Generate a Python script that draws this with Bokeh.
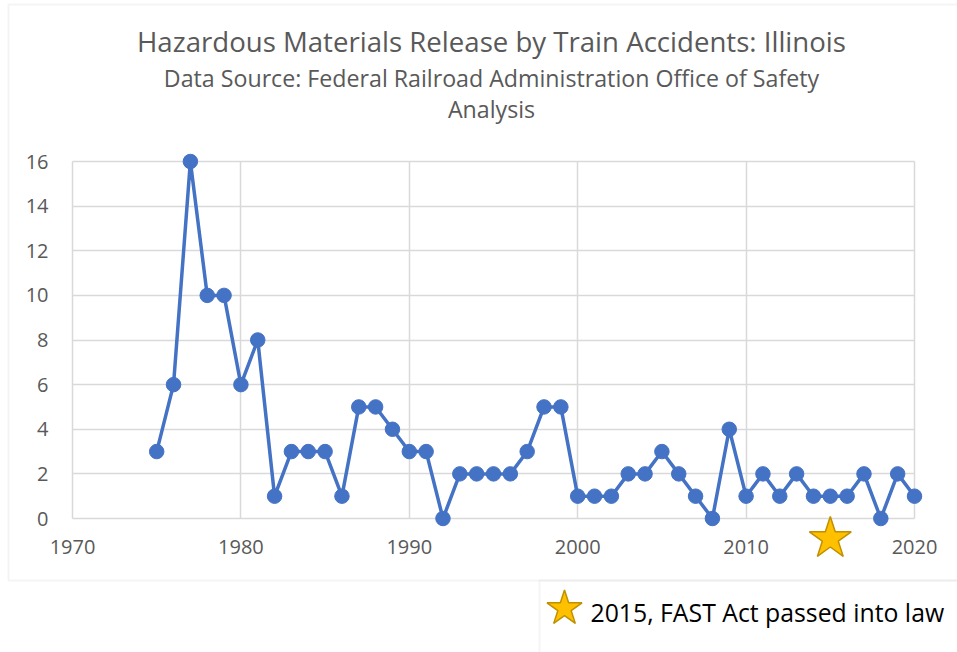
from bokeh.plotting import figure
from bokeh.models import (FixedTicker, Label, Legend, LegendItem, BoxAnnotation, Range1d)
from bokeh.embed import file_html
from bokeh.resources import INLINE

# ---- data ----
years = list(range(1975, 2021))
releases = [3, 6, 16, 10, 10, 6, 8, 1, 3, 3,
            3, 1, 5, 5, 4, 3, 3, 0, 2, 2,
            2, 2, 3, 5, 5, 1, 1, 1, 2, 2,
            3, 2, 1, 0, 4, 1, 2, 1, 2, 1,
            1, 1, 2, 0, 2, 1]
x_ticks = [1970, 1980, 1990, 2000, 2010, 2020]
y_ticks = [0, 2, 4, 6, 8, 10, 12, 14, 16]
event_year = [2015]
event_label = "2015, FAST Act passed into law"

title_text = "Hazardous Materials Release by Train Accidents: Illinois"
sub1_text = "Data Source: Federal Railroad Administration Office of Safety"
sub2_text = "Analysis"

# ---- style / layout ----
W, H = 957, 652
FONT = "Open Sans"
TXT = "#595959"
GRID = "#d9d9d9"
BLUE = "#4472C4"
STAR_Y = -0.90          # marker drawn just below the x axis
# plot area: 1970 -> 72px, 2020 -> 914px ; 0 -> 518px, 16 -> 161px (from top)
px_x = (914 - 72) / (x_ticks[-1] - x_ticks[0])
px_y = (518 - 161) / (y_ticks[-1] - y_ticks[0])
x0 = x_ticks[0] - 72 / px_x
y1 = y_ticks[-1] + 161 / px_y
p = figure(width=W, height=H,
           x_range=Range1d(x0, x0 + W / px_x),
           y_range=Range1d(y1 - H / px_y, y1),
           output_backend="svg", toolbar_location=None, title=None,
           min_border=0, min_border_left=0, min_border_right=0,
           min_border_top=0, min_border_bottom=0)
p.outline_line_color = None
p.background_fill_color = "white"
p.border_fill_color = "white"

# axes drawn at fixed locations inside the canvas
for ax in (p.xaxis[0], p.yaxis[0]):
    ax.axis_line_color = None
    ax.major_tick_line_color = None
    ax.minor_tick_line_color = None
    ax.major_tick_out = 0
    ax.major_tick_in = 0
    ax.minor_tick_out = 0
    ax.minor_tick_in = 0
    ax.major_label_text_font = FONT
    ax.major_label_text_font_size = "20px"
    ax.major_label_text_color = TXT
p.xaxis.ticker = FixedTicker(ticks=x_ticks)
p.yaxis.ticker = FixedTicker(ticks=y_ticks)
p.xaxis.fixed_location = y_ticks[0]
p.yaxis.fixed_location = x_ticks[0]
p.xaxis.major_label_standoff = 21
p.yaxis.major_label_standoff = 24

# grid
p.xgrid.ticker = FixedTicker(ticks=x_ticks)
p.ygrid.ticker = FixedTicker(ticks=y_ticks)
p.xgrid.cross_bounds = (y_ticks[0], y_ticks[-1])
p.ygrid.cross_bounds = (x_ticks[0], x_ticks[-1])
for g in (p.xgrid[0], p.ygrid[0]):
    g.grid_line_color = GRID
    g.grid_line_width = 1.5

# series
p.line(years, releases, line_width=3.5, color=BLUE)
p.scatter(years, releases, size=14.5, color=BLUE)

star_r = p.scatter(x=event_year, y=[STAR_Y] * len(event_year), marker="star",
                   size=44, fill_color="#FFC000", line_color="#BF9000",
                   line_width=1.5)

# titles
for txt, cy, fs in ((title_text, 40, "27.6px"), (sub1_text, 77, "23.2px"),
                    (sub2_text, 108, "23.2px")):
    p.add_layout(Label(x=491, y=H - cy, x_units="screen", y_units="screen",
                       text=txt, text_align="center", text_baseline="middle",
                       text_font=FONT, text_font_size=fs, text_color=TXT))

# chart-area border and legend box border
p.add_layout(BoxAnnotation(left=8, right=W + 20, top=H - 4, bottom=H - 580,
                           left_units="screen", right_units="screen",
                           top_units="screen", bottom_units="screen",
                           fill_alpha=0, line_color=GRID, line_width=2))
p.add_layout(BoxAnnotation(left=539, right=W + 20, top=H - 580, bottom=-20,
                           left_units="screen", right_units="screen",
                           top_units="screen", bottom_units="screen",
                           fill_alpha=0, line_color=GRID, line_width=2))

# legend: star key (large glyph box) + its text
legend = Legend(items=[LegendItem(label="", renderers=[star_r])],
                location=(518, -2), glyph_width=92, glyph_height=92,
                padding=0, margin=0, label_standoff=0, label_width=0,
                label_text_font=FONT, label_text_font_size="1px",
                border_line_alpha=0, background_fill_alpha=0)
p.add_layout(legend)
p.add_layout(Label(x=590, y=H - 611, x_units="screen", y_units="screen",
                   text=event_label, text_align="left", text_baseline="middle",
                   text_font=FONT, text_font_size="24.8px", text_color="black"))

open("out.html", "w").write(file_html(p, INLINE))
